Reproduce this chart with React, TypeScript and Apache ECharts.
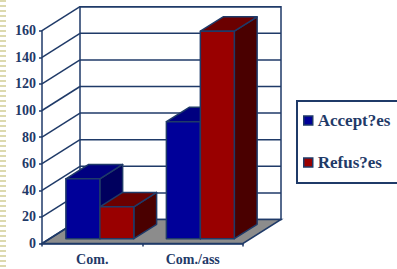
import React, { useEffect, useRef } from "react";
import * as echarts from "echarts";

const categories = ["Com.", "Com./ass"];
const acceptees = [45, 88];
const refusees = [24, 156];
const yTicks = [0, 20, 40, 60, 80, 100, 120, 140, 160];
const seriesNames = ["Accept?es", "Refus?es"];

const NAVY = "#1F3A68";
const FONT = "'Liberation Serif', 'Times New Roman', serif";
const DX = 38;
const DY = -24;
const BAR_FRAC = 0.338;
const D0 = 0.2;
const D1 = 0.8;

const palettes = [
  { front: "#000099", top: "#000080", side: "#00005E" },
  { front: "#990000", top: "#6B0000", side: "#4A0000" },
];

const makeBarRender = (s: number) => (params: any, api: any) => {
  const ci = api.value(0);
  const v = api.value(1);
  const base = api.coord([ci, 0]);
  const top = api.coord([ci, v]);
  const band = api.size([1, 0])[0];
  const w = band * BAR_FRAC;
  const x0 = base[0] - w + s * w + D0 * DX;
  const yb = base[1] + D0 * DY;
  const yt = top[1] + D0 * DY;
  const ddx = (D1 - D0) * DX;
  const ddy = (D1 - D0) * DY;
  const p = palettes[s];
  const st = { stroke: NAVY, lineWidth: 1.5, lineJoin: "round" };
  return {
    type: "group",
    children: [
      {
        type: "polygon",
        shape: { points: [[x0 + w, yt], [x0 + w + ddx, yt + ddy], [x0 + w + ddx, yb + ddy], [x0 + w, yb]] },
        style: { fill: p.side, ...st },
      },
      {
        type: "polygon",
        shape: { points: [[x0, yt], [x0 + w, yt], [x0 + w + ddx, yt + ddy], [x0 + ddx, yt + ddy]] },
        style: { fill: p.top, ...st },
      },
      {
        type: "rect",
        shape: { x: x0, y: yt, width: w, height: yb - yt },
        style: { fill: p.front, ...st },
      },
    ],
  };
};

const wallRender = (params: any, api: any) => {
  const cs = params.coordSys;
  const xl = cs.x;
  const xr = cs.x + cs.width;
  const y0 = api.coord([0, yTicks[0]])[1];
  const ytop = api.coord([0, yTicks[yTicks.length - 1]])[1];
  const ls = { stroke: NAVY, lineWidth: 1.5 };
  const children: any[] = [];
  children.push({
    type: "polygon",
    shape: { points: [[xl + DX, ytop + DY], [xr + DX, ytop + DY], [xr + DX, y0 + DY], [xl + DX, y0 + DY]] },
    style: { fill: "#ffffff", ...ls },
  });
  children.push({
    type: "polygon",
    shape: { points: [[xl, y0], [xr, y0], [xr + DX, y0 + DY], [xl + DX, y0 + DY]] },
    style: { fill: "#8C8C8C", ...ls },
  });
  yTicks.forEach((t) => {
    const y = api.coord([0, t])[1];
    if (t !== yTicks[0]) {
      children.push({
        type: "line",
        shape: { x1: xl + DX, y1: y + DY, x2: xr + DX, y2: y + DY },
        style: ls,
      });
    }
    children.push({
      type: "line",
      shape: { x1: xl, y1: y, x2: xl + DX, y2: y + DY },
      style: ls,
    });
  });
  return { type: "group", children };
};

export default function App() {
  const ref = useRef<HTMLDivElement>(null);
  useEffect(() => {
    if (!ref.current) return;
    const chart = echarts.init(ref.current, undefined, { renderer: "svg" });
    const axisText = { color: NAVY, fontWeight: "bold", fontSize: 14, fontFamily: FONT };
    chart.setOption({
      animation: false,
      backgroundColor: "#ffffff",
      grid: { left: 42, right: 154, top: 30.7, bottom: 25.5, containLabel: false },
      xAxis: {
        type: "category",
        data: categories,
        boundaryGap: true,
        axisLine: { show: true, lineStyle: { color: NAVY, width: 1.5 } },
        axisTick: { show: true, length: 3, lineStyle: { color: NAVY, width: 1.5 } },
        axisLabel: { margin: 9, ...axisText },
        splitLine: { show: false },
      },
      yAxis: {
        type: "value",
        min: 0,
        max: 160,
        interval: 20,
        axisLine: { show: true, lineStyle: { color: NAVY, width: 1.5 } },
        axisTick: { show: true, length: 3, lineStyle: { color: NAVY, width: 1.5 } },
        axisLabel: { margin: 6, ...axisText },
        splitLine: { show: false },
      },
      legend: {
        data: seriesNames,
        orient: "vertical",
        left: 303,
        top: 112,
        padding: 0,
        icon: "rect",
        itemWidth: 9,
        itemHeight: 9,
        itemGap: 25,
        itemStyle: { borderColor: NAVY, borderWidth: 1.5 },
        textStyle: { color: NAVY, fontWeight: "bold", fontSize: 17, fontFamily: FONT },
      },
      graphic: [
        {
          type: "line",
          z: 0,
          shape: { x1: 3, y1: 0, x2: 3, y2: 269 },
          style: { stroke: "#DCD9AE", lineWidth: 6, lineDash: [2, 3] },
        },
        {
          type: "rect",
          z: 0,
          shape: { x: 297, y: 101, width: 120, height: 82 },
          style: { fill: "#ffffff", stroke: NAVY, lineWidth: 2 },
        },
      ],
      series: [
        {
          type: "custom",
          name: "walls",
          z: 1,
          data: [[0, 0]],
          renderItem: wallRender,
          silent: true,
        },
        {
          type: "custom",
          name: seriesNames[0],
          z: 2,
          itemStyle: { color: palettes[0].front, borderColor: NAVY },
          data: acceptees.map((v, i) => [i, v]),
          renderItem: makeBarRender(0),
        },
        {
          type: "custom",
          name: seriesNames[1],
          z: 3,
          itemStyle: { color: palettes[1].front, borderColor: NAVY },
          data: refusees.map((v, i) => [i, v]),
          renderItem: makeBarRender(1),
        },
      ],
    });
    return () => chart.dispose();
  }, []);
  return (
    <div
      ref={ref}
      style={{ position: "fixed", left: 0, top: 0, width: 397, height: 269, background: "#fff" }}
    />
  );
}
